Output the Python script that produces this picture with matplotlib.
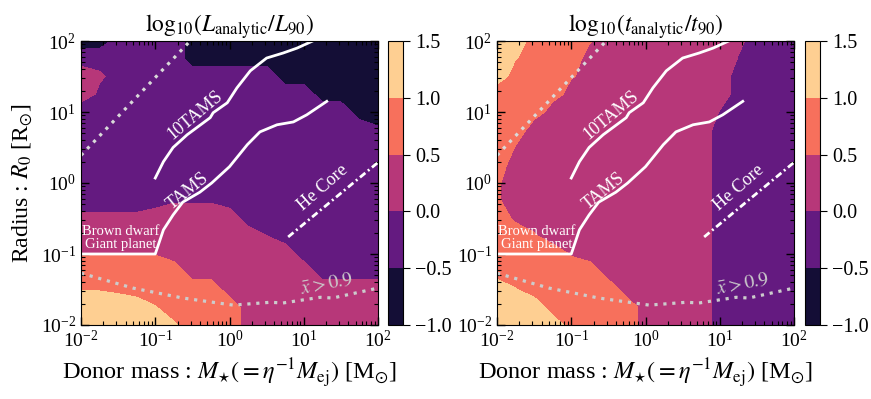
import numpy as np
import matplotlib
matplotlib.use("Agg")
import matplotlib.pyplot as plt

plt.rcParams['font.family'] = ['Liberation Serif', 'DejaVu Serif']
plt.rcParams['mathtext.fontset'] = 'stix'

# log10 grid of donor mass and radius
log_mass = [-2.0, -1.75, -1.5, -1.25, -1.0, -0.75, -0.5, -0.25, 0.0,
            0.25, 0.5, 0.75, 1.0, 1.25, 1.5, 1.75, 2.0]
log_radius = [-2.0, -1.75, -1.5, -1.25, -1.0, -0.75, -0.5, -0.25, 0.0,
              0.25, 0.5, 0.75, 1.0, 1.25, 1.5, 1.75, 2.0]

# log10(L_analytic / L_90), rows = radius (bottom to top), cols = mass
lum_ratio = [
    [1.25, 1.25, 1.25, 1.25, 1.25, 1.05, 0.75, 0.75, 0.75, 0.25, 0.25, 0.25, 0.25, 0.25, 0.25, 0.25, 0.25],
    [1.25, 1.25, 1.25, 1.25, 1.02, 0.75, 0.75, 0.75, 0.75, 0.25, 0.25, 0.25, 0.25, 0.25, 0.25, 0.25, 0.25],
    [0.98, 0.97, 0.90, 0.75, 0.75, 0.75, 0.75, 0.75, 0.25, 0.25, 0.25, 0.25, 0.25, 0.25, 0.25, 0.25, 0.25],
    [0.75, 0.75, 0.75, 0.75, 0.75, 0.75, 0.25, 0.25, 0.25, 0.25, 0.25, 0.25, 0.25, -0.25, -0.25, -0.25, -0.25],
    [0.48, 0.48, 0.48, 0.48, 0.48, 0.25, 0.25, 0.25, 0.25, 0.25, 0.25, 0.25, -0.25, -0.25, -0.25, -0.25, -0.25],
    [0.25, 0.25, 0.25, 0.25, 0.25, 0.25, 0.25, 0.25, 0.25, 0.25, 0.01, -0.25, -0.25, -0.25, -0.25, -0.25, -0.25],
    [0.10, 0.10, 0.10, 0.10, 0.25, 0.25, 0.25, 0.25, 0.25, -0.25, -0.25, -0.25, -0.25, -0.25, -0.25, -0.25, -0.25],
    [-0.25, -0.25, -0.25, -0.25, -0.25, -0.05, -0.05, -0.05, -0.25, -0.25, -0.25, -0.25, -0.25, -0.25, -0.25, -0.25, -0.25],
    [-0.25, -0.25, -0.25, -0.25, -0.25, -0.25, -0.25, -0.25, -0.25, -0.25, -0.25, -0.25, -0.25, -0.25, -0.25, -0.25, -0.25],
    [-0.25, -0.25, -0.25, -0.25, -0.25, -0.25, -0.25, -0.25, -0.25, -0.25, -0.25, -0.25, -0.25, -0.25, -0.25, -0.25, -0.25],
    [-0.25, -0.25, -0.25, -0.25, -0.25, -0.25, -0.25, -0.25, -0.25, -0.25, -0.25, -0.25, -0.25, -0.25, -0.25, -0.25, -0.25],
    [-0.25, -0.25, -0.25, -0.25, -0.25, -0.25, -0.25, -0.25, -0.25, -0.25, -0.25, -0.25, -0.25, -0.25, -0.25, -0.25, -0.45],
    [-0.25, -0.25, -0.25, -0.25, -0.25, -0.25, -0.25, -0.25, -0.25, -0.25, -0.25, -0.25, -0.25, -0.25, -0.25, -0.75, -0.75],
    [0.25, -0.10, -0.25, -0.25, -0.25, -0.25, -0.25, -0.25, -0.25, -0.25, -0.25, -0.25, -0.25, -0.75, -0.75, -0.75, -0.75],
    [0.25, 0.08, -0.25, -0.25, -0.25, -0.25, -0.25, -0.25, -0.25, -0.25, -0.25, -0.75, -0.75, -0.75, -0.75, -0.75, -0.75],
    [-0.25, -0.25, -0.25, -0.25, -0.25, -0.25, -0.75, -0.75, -0.75, -0.75, -0.75, -0.75, -0.75, -0.75, -0.75, -0.75, -0.75],
    [-0.75, -0.75, -0.25, -0.25, -0.25, -0.25, -0.75, -0.75, -0.75, -0.75, -0.75, -0.75, -0.75, -0.75, -0.75, -0.75, -0.75],
]

# log10(t_analytic / t_90)
time_ratio = [
    [1.25, 1.25, 1.25, 1.25, 0.75, 0.75, 0.75, 0.75, 0.25, 0.25, 0.25, 0.25, -0.25, -0.25, -0.25, -0.25, -0.25],
    [1.25, 1.25, 1.25, 0.75, 0.75, 0.75, 0.75, 0.75, 0.25, 0.25, 0.25, 0.25, -0.25, -0.25, -0.25, -0.25, -0.25],
    [1.25, 1.02, 0.75, 0.75, 0.75, 0.75, 0.75, 0.25, 0.25, 0.25, 0.25, 0.25, -0.25, -0.25, -0.25, -0.25, -0.25],
    [0.75, 0.75, 0.75, 0.75, 0.75, 0.75, 0.25, 0.25, 0.25, 0.25, 0.25, 0.25, -0.25, -0.25, -0.25, -0.25, -0.25],
    [0.75, 0.75, 0.75, 0.75, 0.45, 0.25, 0.25, 0.25, 0.25, 0.25, 0.25, 0.25, -0.25, -0.25, -0.25, -0.25, -0.25],
    [0.75, 0.75, 0.55, 0.25, 0.25, 0.25, 0.25, 0.25, 0.25, 0.25, 0.25, 0.25, -0.25, -0.25, -0.25, -0.25, -0.25],
    [0.75, 0.40, 0.25, 0.25, 0.25, 0.25, 0.25, 0.25, 0.25, 0.25, 0.25, 0.25, -0.25, -0.25, -0.25, -0.25, -0.25],
    [0.55, 0.25, 0.25, 0.25, 0.25, 0.25, 0.25, 0.25, 0.25, 0.25, 0.25, 0.25, -0.25, -0.25, -0.25, -0.25, -0.25],
    [0.55, 0.25, 0.25, 0.25, 0.25, 0.25, 0.25, 0.25, 0.25, 0.25, 0.25, 0.25, -0.25, -0.25, -0.25, -0.25, -0.25],
    [0.70, 0.25, 0.25, 0.25, 0.25, 0.25, 0.25, 0.25, 0.25, 0.25, 0.25, 0.25, -0.25, -0.25, -0.25, -0.25, -0.25],
    [0.75, 0.48, 0.25, 0.25, 0.25, 0.25, 0.25, 0.25, 0.25, 0.25, 0.25, 0.25, -0.25, -0.25, -0.25, -0.25, -0.25],
    [0.75, 0.75, 0.25, 0.25, 0.25, 0.25, 0.25, 0.25, 0.25, 0.25, 0.25, 0.25, -0.25, -0.25, -0.25, -0.25, -0.25],
    [0.75, 0.75, 0.75, 0.25, 0.25, 0.25, 0.25, 0.25, 0.25, 0.25, 0.25, 0.25, -0.02, -0.25, -0.25, -0.25, -0.25],
    [0.75, 0.75, 0.75, 0.75, 0.25, 0.25, 0.25, 0.25, 0.25, 0.25, 0.25, 0.25, 0.25, -0.25, -0.25, -0.25, -0.25],
    [1.25, 0.75, 0.75, 0.75, 0.55, 0.25, 0.25, 0.25, 0.25, 0.25, 0.25, 0.25, 0.25, -0.25, -0.25, -0.25, -0.25],
    [1.25, 1.02, 0.75, 0.75, 0.75, 0.25, 0.25, 0.25, 0.25, 0.25, 0.25, 0.25, 0.25, -0.02, -0.25, -0.25, -0.25],
    [1.25, 1.25, 0.75, 0.75, 0.75, 0.55, 0.25, 0.25, 0.25, 0.25, 0.25, 0.25, 0.25, 0.10, -0.25, -0.25, -0.25],
]

levels = [-1.0, -0.5, 0.0, 0.5, 1.0, 1.5]

# overlay curves (log10 M, log10 R)
tams_logm = [-2.0, -1.0, -0.89, -0.76, -0.63, -0.40, -0.24, 0.0, 0.24, 0.41, 0.64, 0.86, 1.04, 1.31]
tams_logr = [-1.0, -1.0, -0.66, -0.45, -0.27, -0.13, 0.0, 0.23, 0.54, 0.72, 0.82, 0.86, 0.96, 1.15]
tams10_logm = [-1.0, -0.89, -0.76, -0.57, -0.26, -0.22, -0.03, 0.10, 0.28, 0.50, 0.72, 0.91, 1.12]
tams10_logr = [0.07, 0.30, 0.50, 0.68, 0.92, 0.99, 1.13, 1.34, 1.58, 1.76, 1.83, 1.90, 2.0]
hecore_logm = [0.79, 2.0]
hecore_logr = [-0.76, 0.29]
upper_dot_logm = [-2.0, -0.53]
upper_dot_logr = [0.39, 2.0]
xbar_logm = [-2.0, -1.3, -0.63, 0.05, 0.55, 0.72, 1.22, 1.39, 2.0]
xbar_logr = [-1.27, -1.48, -1.62, -1.72, -1.68, -1.69, -1.61, -1.62, -1.48]

titles = [r'$\mathrm{log}_{10}(L_{\rm analytic}/L_{90})$',
          r'$\mathrm{log}_{10}(t_{\rm analytic}/t_{90})$']


def pw(v):
    return 10 ** np.array(v)


def panel(ax, cax, z, title, ylabel):
    M, R = np.meshgrid(pw(log_mass), pw(log_radius))
    cs = ax.contourf(M, R, np.array(z), levels=levels, cmap='magma')
    ax.set_xscale('log')
    ax.set_yscale('log')
    ax.set_xlim(1e-2, 1e2)
    ax.set_ylim(1e-2, 1e2)

    ax.plot(pw(tams_logm), pw(tams_logr), '-', color='white', lw=2)
    ax.plot(pw(tams10_logm), pw(tams10_logr), '-', color='white', lw=2)
    ax.plot(pw(hecore_logm), pw(hecore_logr), color='white', lw=2,
            linestyle=(0, (2.5, 1.2, 0.7, 1.2)))
    ax.plot(pw(upper_dot_logm), pw(upper_dot_logr), color='0.85', lw=2.3,
            linestyle=(0, (1, 1.8)))
    ax.plot(pw(xbar_logm), pw(xbar_logr), color='0.8', lw=2.3,
            linestyle=(0, (1, 1.8)))

    kw = dict(ha='center', va='center', rotation_mode='anchor', color='white')
    ax.text(10 ** -0.46, 10 ** 0.96, '10TAMS', rotation=40, fontsize=13, **kw)
    ax.text(10 ** -0.56, 10 ** -0.11, 'TAMS', rotation=39, fontsize=13, **kw)
    ax.text(10 ** 1.26, 10 ** -0.07, 'He Core', rotation=41, fontsize=13, **kw)
    ax.text(10 ** -1.47, 10 ** -0.77, 'Brown dwarf\nGiant planet', fontsize=10.5,
            linespacing=1.0, **kw)
    ax.text(10 ** 1.31, 10 ** -1.42, r'$\bar{x}>0.9$', rotation=11, fontsize=14,
            ha='center', va='center', rotation_mode='anchor', color='0.8')

    ax.tick_params(which='both', direction='in', top=True, right=True, labelsize=14)
    ax.tick_params(which='major', length=6, width=1)
    ax.tick_params(which='minor', length=3, width=0.8)
    ax.set_title(title, fontsize=17, pad=5)
    ax.set_xlabel(r'Donor mass : $M_{\star}(=\eta^{-1}M_{\rm ej})$ [M$_{\odot}$]', fontsize=17.5)
    if ylabel:
        ax.set_ylabel(r'Radius : $R_0$ [R$_{\odot}$]', fontsize=17)

    cb = plt.colorbar(cs, cax=cax, ticks=levels)
    cb.ax.tick_params(labelsize=14.5, length=5)
    cb.ax.set_yticklabels(['\u22121.0', '\u22120.5', '0.0', '0.5', '1.0', '1.5'])


fig = plt.figure(figsize=(8.71, 3.99), dpi=100)
ax1 = fig.add_axes([81 / 871, 74 / 399, 297 / 871, 284 / 399])
cax1 = fig.add_axes([388 / 871, 74 / 399, 15 / 871, 284 / 399])
ax2 = fig.add_axes([497 / 871, 74 / 399, 297 / 871, 284 / 399])
cax2 = fig.add_axes([805 / 871, 74 / 399, 15 / 871, 284 / 399])

panel(ax1, cax1, lum_ratio, titles[0], True)
panel(ax2, cax2, time_ratio, titles[1], False)

fig.savefig('out.png', dpi=100)
